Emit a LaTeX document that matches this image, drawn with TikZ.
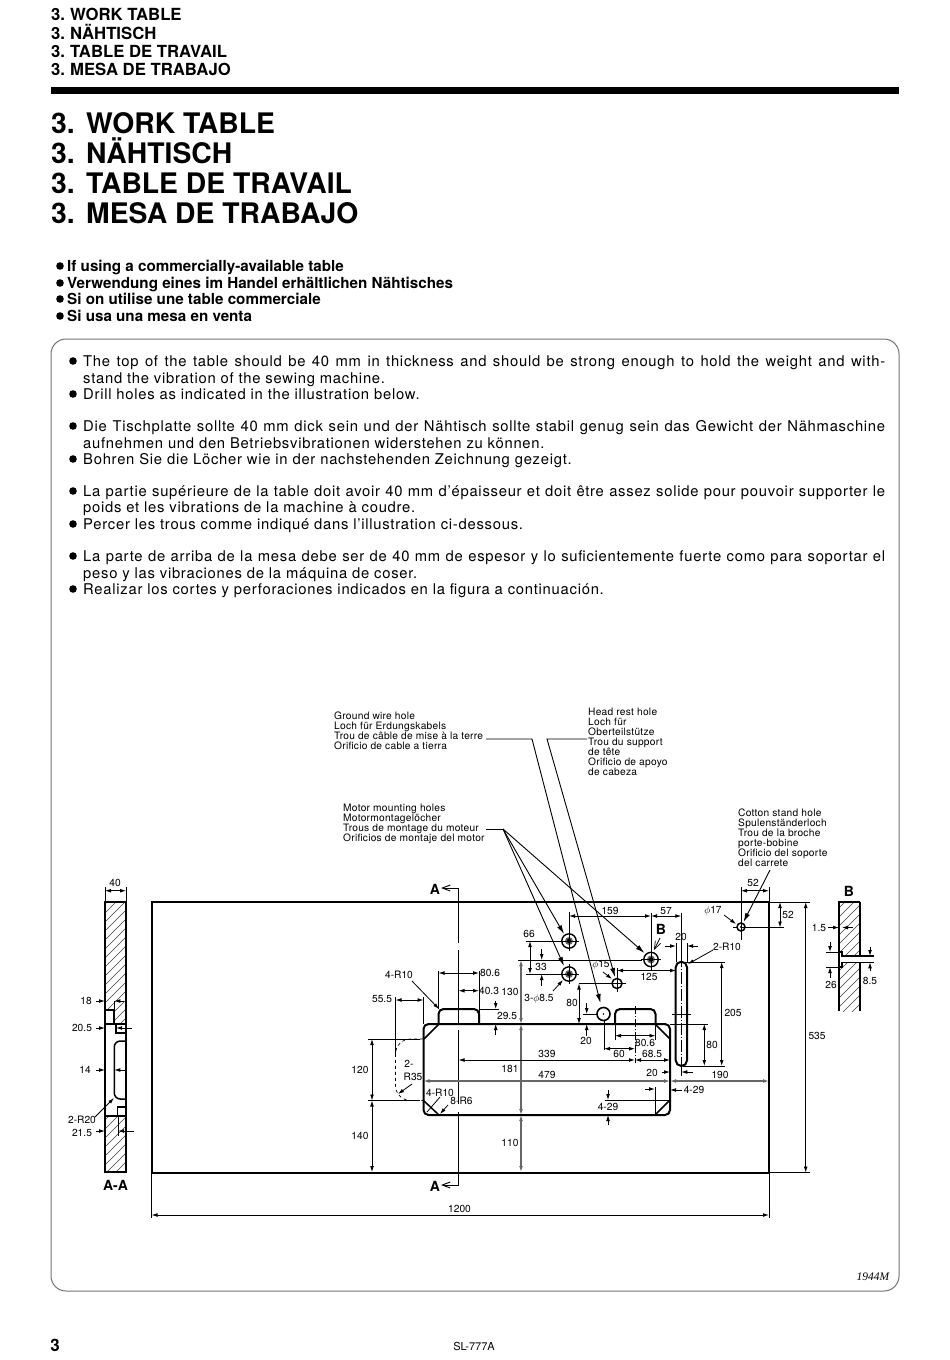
\documentclass[tikz,border=0pt]{standalone}
\usepackage{fontspec}
\setmainfont{TeX Gyre Heros}
\newfontfamily\lblfont{TeX Gyre Heros}[LetterSpace=2.5]
\newfontfamily\bodyfont{TeX Gyre Heros}[LetterSpace=5]
\newfontfamily\serfont{Liberation Serif}
\usetikzlibrary{arrows.meta}
\def\motorhole(#1,#2){
	\draw[line width=1.4] (#1,#2) circle (7.2);
	\fill[black!60] (#1,#2) circle (4);
	\fill[black] (#1,#2) circle (2.2);
	\draw[line width=0.7] (#1-10,#2) -- (#1+10,#2);
	\draw[line width=0.7] (#1,#2-10) -- (#1,#2+10);
}
\def\hatchbox#1{
	\begin{scope}
		\clip #1;
		\foreach \c in {1000,1009,...,1900} \draw[hatchline] (\c,0) -- (0,\c);
	\end{scope}
}
\def\fitline#1{\makebox[802pt][s]{#1}}
\tikzset{
	dimline/.style={line width=0.8,{Latex[length=6pt,width=3.8pt]}-{Latex[length=6pt,width=3.8pt]}},
	greydim/.style={dimline,draw=black!60,line width=1.1},
	onearrow/.style={line width=0.8,-{Latex[length=6pt,width=3.8pt]}},
	leader/.style={line width=0.9,-{Latex[length=9pt,width=5pt]}},
	witness/.style={line width=0.7},
	outline/.style={line width=2},
	hatchline/.style={line width=0.45,black!75},
	dimtxt/.style={font=\fontsize{10.2}{11}\selectfont,inner sep=0},
	lbltxt/.style={font=\fontsize{10.2}{10}\lblfont,anchor=base west,inner sep=0},
	bodytxt/.style={font=\fontsize{14.8}{15}\bodyfont,anchor=base west,inner sep=0},
	boldhead/.style={font=\fontsize{15.2}{16}\bfseries,anchor=base west,inner sep=0},
	secmark/.style={font=\fontsize{14}{14}\bfseries,inner sep=0},
}
\begin{document}
\begin{tikzpicture}[x=1pt,y=-1pt]
	\useasboundingbox (0,0) rectangle (950,1360);
	%%%%% HEADERS %%%%%
	\foreach \ypos/\txt [count=\i] in {20.5/WORK TABLE,39/NÄHTISCH,57.5/TABLE DE TRAVAIL,75.5/MESA DE TRABAJO}
		\node[font=\fontsize{16.7}{17}\bfseries,anchor=base west,inner sep=0] (small\i) at (51,\ypos) {\makebox[19pt][l]{3.}\txt};
	\fill (51,87) rectangle (899,93.5);
	\foreach \ypos/\txt [count=\i] in {133/WORK TABLE,163/NÄHTISCH,193/TABLE DE TRAVAIL,223/MESA DE TRABAJO}
		\node[font=\fontsize{28.3}{31}\bfseries,anchor=base west,inner sep=0] (big\i) at (51,\ypos) {\makebox[35pt][l]{3.}\txt};
	\foreach \ypos/\txt [count=\i] in {271/If using a commercially-available table,288/Verwendung eines im Handel erhältlichen Nähtisches,304/Si on utilise une table commerciale,321/Si usa una mesa en venta} {
		\fill (60,\ypos-5) circle (3.8);
		\node[boldhead] (head\i) at (67,\ypos) {\txt};
	}
	\draw[black!55,line width=1,rounded corners=15pt] (51,339) rectangle (899,1291);
	%%%%% BODY %%%%%
	\foreach \ypos in {366,399,431,464,496,529,561,594}
		\fill (73,\ypos-5) circle (3.8);
	\foreach \ypos/\txt [count=\i] in {
		366/{\fitline{The top of the table should be 40 mm in thickness and should be strong enough to hold the weight and with-}},
		383/{stand the vibration of the sewing machine.},
		399/{Drill holes as indicated in the illustration below.},
		431/{\fitline{Die Tischplatte sollte 40 mm dick sein und der Nähtisch sollte stabil genug sein das Gewicht der Nähmaschine}},
		448/{aufnehmen und den Betriebsvibrationen widerstehen zu können.},
		464/{Bohren Sie die Löcher wie in der nachstehenden Zeichnung gezeigt.},
		496/{\fitline{La partie supérieure de la table doit avoir 40 mm d’épaisseur et doit être assez solide pour pouvoir supporter le}},
		512/{poids et les vibrations de la machine à coudre.},
		529/{Percer les trous comme indiqué dans l’illustration ci-dessous.},
		561/{\fitline{La parte de arriba de la mesa debe ser de 40 mm de espesor y lo suficientemente fuerte como para soportar el}},
		578/{peso y las vibraciones de la máquina de coser.},
		594/{Realizar los cortes y perforaciones indicados en la figura a continuación.}}
		\node[bodytxt] (body\i) at (83,\ypos) {\txt};
	%%%%% CALLOUTS %%%%%
	\foreach \ypos/\txt [count=\i] in {719.5/Ground wire hole,729.5/Loch für Erdungskabels,739.5/Trou de câble de mise à la terre,749.5/Orificio de cable a tierra}
		\node[lbltxt] (ground\i) at (334,\ypos) {\txt};
	\foreach \ypos/\txt [count=\i] in {715/Head rest hole,725/Loch für,735/Oberteilstütze,745/Trou du support,755/de tête,765/Orificio de apoyo,775/de cabeza}
		\node[lbltxt] (headrest\i) at (588,\ypos) {\txt};
	\foreach \ypos/\txt [count=\i] in {811.5/Motor mounting holes,821.5/Motormontagelöcher,831.5/Trous de montage du moteur,841.5/Orificios de montaje del motor}
		\node[lbltxt] (motor\i) at (343,\ypos) {\txt};
	\foreach \ypos/\txt [count=\i] in {816.5/Cotton stand hole,826.5/Spulenständerloch,836.5/Trou de la broche,846.5/porte-bobine,856.5/Orificio del soporte,866.5/del carrete}
		\node[lbltxt] (cotton\i) at (738,\ypos) {\txt};
	\draw[leader] (486,739) -- (532,739) -- (600.5,1003);
	\draw[leader] (587,739) -- (547,739) -- (615,977);
	\draw[line width=0.9] (486,829) -- (503,829);
	\draw[leader] (503,829) -- (564,934);
	\draw[leader] (503,829) -- (564,966);
	\draw[leader] (503,829) -- (644.5,953);
	\draw[leader] (770,870) -- (743.5,922);
	%%%%% SECTION A-A %%%%%
	\hatchbox{(105,902) rectangle (126,1010) (114,1010) rectangle (126,1024)}
	\hatchbox{(105,1116) rectangle (126,1172)}
	\draw[outline] (105,902) rectangle (126,1172);
	\draw[outline] (105,1010) -- (114.3,1010) -- (114.3,1024);
	\draw[outline] (105,1024) -- (126,1024);
	\draw[line width=1.5] (116,1024) -- (116,1033) -- (126,1033);
	\draw[line width=1.5,rounded corners=6pt] (126,1041) -- (114.3,1041) -- (114.3,1099) -- (126,1099);
	\draw[line width=1.5] (126,1107) -- (117.7,1107) -- (117.7,1116);
	\draw[outline] (105,1116) -- (126,1116);
	\draw[witness] (105,887) -- (105,902) (126,887) -- (126,902);
	\draw[dimline] (105,890.7) -- (126,890.7);
	\foreach \ypos in {1001,1028,1070,1131}
		\draw[onearrow] (96,\ypos) -- (105,\ypos);
	\draw[onearrow] (124,1001) -- (114.3,1001);
	\draw[witness] (114.3,1001) -- (114.3,1010);
	\draw[onearrow] (132,1028) -- (116,1028);
	\draw[onearrow] (126,1070) -- (114.3,1070);
	\draw[onearrow] (134,1131) -- (118,1131);
	\draw[witness] (118,1116) -- (118,1136);
	\draw[onearrow] (95,1117) -- (114,1098);
	%%%%% TABLE %%%%%
	\draw[outline] (151.5,902) rectangle (769,1172.5);
	%%%%% CUTOUT %%%%%
	\draw[outline,rounded corners=5pt] (423.5,1024) rectangle (670,1115);
	\draw[outline,rounded corners=5pt] (438.5,1024) -- (438.5,1009) -- (479,1009) -- (479,1024);
	\draw[outline,rounded corners=5pt] (615,1024) -- (615,1009) -- (655.5,1009) -- (655.5,1024);
	\draw[line width=1.5] (424,1039) -- (439,1024) (655,1024) -- (670,1039) (424,1101) -- (439,1115) (655,1115) -- (670,1100);
	\draw[outline,rounded corners=5.6pt] (675.7,961.7) rectangle (687,1066);
	%%%%% HOLES %%%%%
	\motorhole(569,941)
	\motorhole(569,974)
	\motorhole(651,959.5)
	\draw[line width=1.6] (603.5,1014) circle (6.5);
	\fill (603.5,1014) circle (0.9);
	\draw[line width=1.5] (617,983.5) circle (5);
	\fill (617,983.5) circle (0.8);
	\draw[line width=1.5] (741,927) circle (4);
	\fill (741,927) circle (1.1);
	\draw[line width=0.7] (733,927) -- (737,927) (745,927) -- (749,927);
	%%%%% CENTRE LINES %%%%%
	\draw[line width=0.9] (458.5,888) -- (458.5,943) (458.5,950) -- (458.5,1024) (458.5,1030) -- (458.5,1104) (458.5,1112) -- (458.5,1185);
	\draw[line width=0.9] (449,888) -- (458.5,888) (449,1185) -- (458.5,1185);
	\draw[line width=0.9,-{Straight Barb[length=8pt,width=6pt]}] (449,888) -- (441,888);
	\draw[line width=0.9,-{Straight Barb[length=8pt,width=6pt]}] (449,1185) -- (441,1185);
	\draw[line width=0.7,dash pattern=on 8pt off 2pt on 1pt off 2pt] (635,1006) -- (635,1063);
	\draw[line width=0.7,dash pattern=on 12pt off 2pt on 1pt off 2pt] (681.3,955) -- (681.3,1074);
	\draw[line width=0.7] (672,1014) -- (691,1014);
	\draw[line width=0.9] (583,1014) -- (597,1014);
	\draw[line width=0.7] (617,968) -- (617,992) (604,983.5) -- (626,983.5);
	\draw[witness] (518,960) -- (642,960);
	%%%%% DIMENSIONS LEFT %%%%%
	\draw[witness] (395.5,997) -- (395.5,1055) (423.5,997) -- (423.5,1024);
	\draw[dimline] (395.5,1000) -- (423.5,1000);
	\draw[witness] (368,1039) -- (420,1039) (368,1100.5) -- (420,1100.5);
	\draw[dimline] (372,1039) -- (372,1100.5);
	\draw[dimline] (372,1100.5) -- (372,1172);
	\draw[line width=0.7,dashed,rounded corners=15pt] (423,1039) -- (395.5,1039) -- (395.5,1100.5) -- (423,1100.5);
	\draw[onearrow] (412,1084) -- (398,1094);
	\draw[onearrow] (412,981) -- (439,1009);
	\draw[line width=0.8] (440,1097) -- (427,1112);
	\draw[onearrow] (448,1105) -- (440,1114);
	\draw[witness] (438.5,971) -- (438.5,1009) (479,971) -- (479,1024);
	\draw[dimline] (438.5,973) -- (479,973);
	\draw[dimline] (458.5,990.7) -- (479,990.7);
	\draw[witness] (479,1009) -- (499,1009);
	\draw[onearrow] (495.7,1001) -- (495.7,1009);
	\draw[onearrow] (495.7,1035) -- (495.7,1024);
	\draw[greydim] (521,960) -- (521,1024);
	\draw[greydim] (521,1024) -- (521,1115);
	\draw[greydim] (521,1115) -- (521,1172);
	\draw[witness] (526,941) -- (560,941) (526,974) -- (560,974);
	\draw[dimline] (530,941) -- (530,974);
	\draw[onearrow] (541.7,949) -- (541.7,960);
	\draw[onearrow] (541.7,986) -- (541.7,974);
	\draw[onearrow] (553,991) -- (563,980);
	%%%%% DIMENSIONS MIDDLE %%%%%
	\draw[witness] (569,912) -- (569,932) (651,913) -- (651,950) (681.3,913) -- (681.3,955);
	\draw[dimline] (569,916) -- (651,916);
	\draw[dimline] (651,916) -- (681.3,916);
	\draw[dimline] (458.5,1060) -- (635,1060);
	\draw[dimline] (635,1060) -- (670,1060);
	\draw[greydim] (423.5,1081) -- (670,1081);
	\draw[greydim] (670,1081) -- (769,1081);
	\draw[witness] (579,983.5) -- (610,983.5) (604,1021) -- (604,1050);
	\draw[dimline] (579,983.5) -- (579,1024);
	\draw[onearrow] (586.7,1003) -- (586.7,1014);
	\draw[onearrow] (586.7,1036) -- (586.7,1024);
	\draw[dimline] (604,1048.7) -- (635,1048.7);
	\draw[witness] (615,1025) -- (615,1040) (655.5,1024) -- (655.5,1040);
	\draw[dimline] (615,1035.7) -- (655.5,1035.7);
	\draw[dimline] (617,970.5) -- (676,970.5);
	\draw[onearrow] (603,972) -- (612,979);
	\draw[witness] (655,1087) -- (655,1114) (605,1100) -- (670,1100);
	\draw[onearrow] (645,1089) -- (655,1089);
	\draw[onearrow] (682,1090) -- (670,1090);
	\draw[onearrow] (608,1090) -- (608,1100);
	\draw[onearrow] (608,1125) -- (608,1115);
	\draw[onearrow] (662,1072) -- (670,1072);
	\draw[onearrow] (693,1072) -- (681.3,1072);
	\draw[witness] (681.3,1066) -- (681.3,1076);
	%%%%% DIMENSIONS RIGHT %%%%%
	\draw[witness] (676,943) -- (676,962) (687,943) -- (687,962);
	\draw[onearrow] (665,946) -- (676,946);
	\draw[onearrow] (698,946) -- (687,946);
	\draw[onearrow] (713,950) -- (688,964);
	\draw[witness] (684,962) -- (725,962) (683,1066) -- (725,1066) (670,1024) -- (708,1024);
	\draw[dimline] (721.7,962) -- (721.7,1066);
	\draw[dimline] (704.3,1024) -- (704.3,1066);
	\draw[witness] (769,902) -- (810,902) (769,1172.5) -- (810,1172.5);
	\draw[dimline] (805.7,902) -- (805.7,1172.5);
	\draw[witness] (741,887) -- (741,940) (769,887) -- (769,902) (741,927.5) -- (784,927.5);
	\draw[dimline] (741,890.7) -- (769,890.7);
	\draw[dimline] (780,902) -- (780,927.5);
	\draw[onearrow] (724,915) -- (736,924);
	\draw[line width=0.7,-{Straight Barb[length=8pt,width=6pt]}] (660,938) -- (654,950);
	\draw[witness] (151.5,1172) -- (151.5,1218) (769,1172) -- (769,1218);
	\draw[dimline] (151.5,1215) -- (769,1215);
	%%%%% SECTION B %%%%%
	\hatchbox{(839,902) rectangle (860,1011)}
	\fill[white] (839,952) rectangle (842,967) (842,956) rectangle (860,962.3);
	\draw[outline] (839,1011) -- (839,902) -- (860,902);
	\draw[line width=1.5] (860,902) -- (860,956) (860,962.3) -- (860,1011);
	\draw[line width=1.2] (839,952) -- (842,952) -- (842,956) -- (874,956) (839,967) -- (842,967) -- (842,962.3) -- (874,962.3);
	\draw[onearrow] (828,927.5) -- (839,927.5);
	\draw[onearrow] (853,927.5) -- (842,927.5);
	\draw[witness] (826,952) -- (840,952) (826,967) -- (840,967);
	\draw[onearrow] (830,942) -- (830,952);
	\draw[onearrow] (830,978) -- (830,967);
	\draw[onearrow] (870,947) -- (870,956);
	\draw[onearrow] (870,971) -- (870,962.3);
	%%%%% DIMENSION TEXTS %%%%%
	\foreach \px/\py/\txt [count=\i] in {115/883/40,86/1001/18,82/1028/20.5,85/1070/14,82/1119.5/2-R20,82/1132.5/21.5,
		399/975/4-R10,490/973/80.6,489/991/40.3,510/992/130,382/999/55.5,507/1016/29.5,360/1070/120,360/1136/140,
		409/1064/2-,413/1076.5/R35,440/1093/4-R10,461.5/1101/8-R6,529/934/66,541/967/33,539/999/3-$\phi$8.5,572/1003/80,
		586/1041/20,610/911/159,666/911/57,681/937/20,727/947/2-R10,601/965/$\phi$15,649/977/125,733/1013/205,712/1045/80,
		720/1075/190,652/1073/20,694/1090/4-29,608/1107/4-29,645/1043/80.6,619/1054/60,652/1054/68.5,547/1054/339,
		547/1075/479,510/1069/181,510/1143/110,459.5/1209/1200,817/1036/535,753/883/52,788/915/52,713/911/$\phi$17,
		819/928/1.5,831/985/26,870/981/8.5}
		\node[dimtxt] (dim\i) at (\px,\py) {\txt};
	\node[secmark] (markA) at (435,889) {A};
	\node[secmark] (markAb) at (435,1186) {A};
	\node[secmark] (markAA) at (115.5,1185) {A-A};
	\node[secmark] (markBb) at (661,929) {B};
	\node[secmark] (markB) at (849,891) {B};
	%%%%% FOOTER %%%%%
	\node[font=\fontsize{17}{17}\bfseries,inner sep=0] (pageno) at (55,1345) {3};
	\node[font=\fontsize{11}{11}\selectfont,inner sep=0] (model) at (474,1346) {SL-777A};
	\node[font=\fontsize{11.5}{11}\serfont\itshape,inner sep=0] (fignum) at (873,1277) {1944M};
\end{tikzpicture}
\end{document}
